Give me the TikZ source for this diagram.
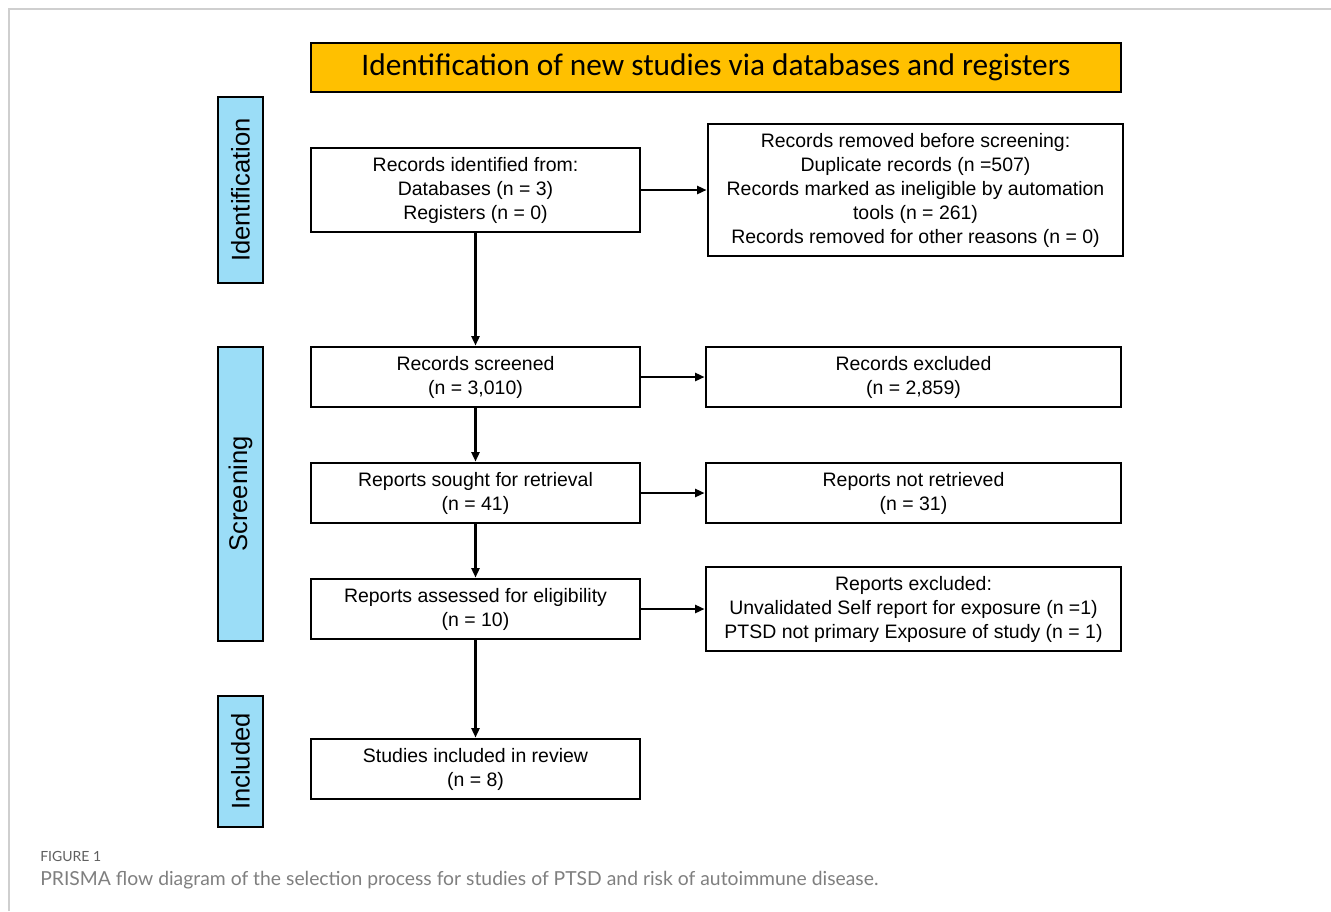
\documentclass[tikz,border=0pt]{standalone}
\usepackage{fontspec}
\setmainfont{Liberation Sans}
\newfontfamily\titlefont{Carlito}
\newfontfamily\capfont{Lato}
\usepackage{tikz}
\usetikzlibrary{arrows.meta}
\definecolor{bannerfill}{HTML}{FFC000}
\definecolor{phasefill}{HTML}{9BDDF7}
\definecolor{framegray}{HTML}{CFCFCF}
\definecolor{capgray}{HTML}{7F7F7F}
\newcommand{\px}{0.75pt}
\tikzset{
  flowbox/.style  = {draw,line width=2.2pt,fill=white,align=center,inner sep=2pt,
                     font=\fontsize{14.6}{18}\selectfont},
  phasebox/.style = {draw,line width=2.2pt,fill=phasefill,rotate=90,inner sep=0pt,
                     font=\fontsize{19.2}{22}\selectfont},
  bannerbox/.style= {draw,line width=2.2pt,fill=bannerfill,inner sep=0pt,
                     font=\titlefont\fontsize{23.5}{27}\selectfont},
  flowarr/.style  = {-{Triangle[length=7pt,width=6pt]},line width=1.6pt}
}

\begin{document}
\begin{tikzpicture}[x=0.75pt,y=-0.75pt]
  \useasboundingbox (0,0) rectangle (1331,911);
  \draw[framegray,line width=0.9pt] (9,911) -- (9,9) -- (1331,9);

  % header
  \node[bannerbox,minimum width=810*\px,minimum height=49*\px] (banner) at (716,67.5)
    {Identification of new studies via databases and registers};

  % phases
  \node[phasebox,minimum width=186*\px,minimum height=45*\px] (phident) at (240.5,190) {Identification};
  \node[phasebox,minimum width=294*\px,minimum height=45*\px] (phscreen) at (240.5,494) {Screening};
  \node[phasebox,minimum width=131*\px,minimum height=45*\px] (phincl) at (240.5,761.5) {Included};

  % main column
  \node[flowbox,minimum width=329*\px,minimum height=84*\px] (identified) at (475.5,190)
    {Records identified from:\\Databases (n = 3)\\Registers (n = 0)};
  \node[flowbox,minimum width=329*\px,minimum height=60*\px] (screened) at (475.5,377)
    {Records screened\\(n = 3,010)};
  \node[flowbox,minimum width=329*\px,minimum height=60*\px] (sought) at (475.5,493)
    {Reports sought for retrieval\\(n = 41)};
  \node[flowbox,minimum width=329*\px,minimum height=60*\px] (assessed) at (475.5,609)
    {Reports assessed for eligibility\\(n = 10)};
  \node[flowbox,minimum width=329*\px,minimum height=60*\px] (included) at (475.5,769)
    {Studies included in review\\(n = 8)};

  % side column
  \node[flowbox,minimum width=415*\px,minimum height=132*\px] (removed) at (915.5,190)
    {Records removed before screening:\\Duplicate records (n =507)\\Records marked as ineligible by automation\\tools (n = 261)\\Records removed for other reasons (n = 0)};
  \node[flowbox,minimum width=415*\px,minimum height=60*\px] (excluded) at (913.5,377)
    {Records excluded\\(n = 2,859)};
  \node[flowbox,minimum width=415*\px,minimum height=60*\px] (notretr) at (913.5,493)
    {Reports not retrieved\\(n = 31)};
  \node[flowbox,minimum width=415*\px,minimum height=84*\px] (repexcl) at (913.5,609)
    {Reports excluded:\\Unvalidated Self report for exposure (n =1)\\PTSD not primary Exposure of study (n = 1)};

  % arrows
  \draw[flowarr] (identified) -- (removed);
  \draw[flowarr] (identified) -- (screened);
  \draw[flowarr] (screened) -- (excluded);
  \draw[flowarr] (screened) -- (sought);
  \draw[flowarr] (sought) -- (notretr);
  \draw[flowarr] (sought) -- (assessed);
  \draw[flowarr] (assessed) -- (repexcl);
  \draw[flowarr] (assessed) -- (included);

  % caption
  \node[anchor=base west,inner sep=0pt,text=capgray!75!black,font=\capfont\fontsize{10.5}{12}\selectfont] (figlabel) at (40,861) {FIGURE 1};
  \node[anchor=base west,inner sep=0pt,text=capgray,font=\capfont\fontsize{14.5}{17}\selectfont] (figcap) at (40,885)
    {PRISMA flow diagram of the selection process for studies of PTSD and risk of autoimmune disease.};
\end{tikzpicture}
\end{document}
